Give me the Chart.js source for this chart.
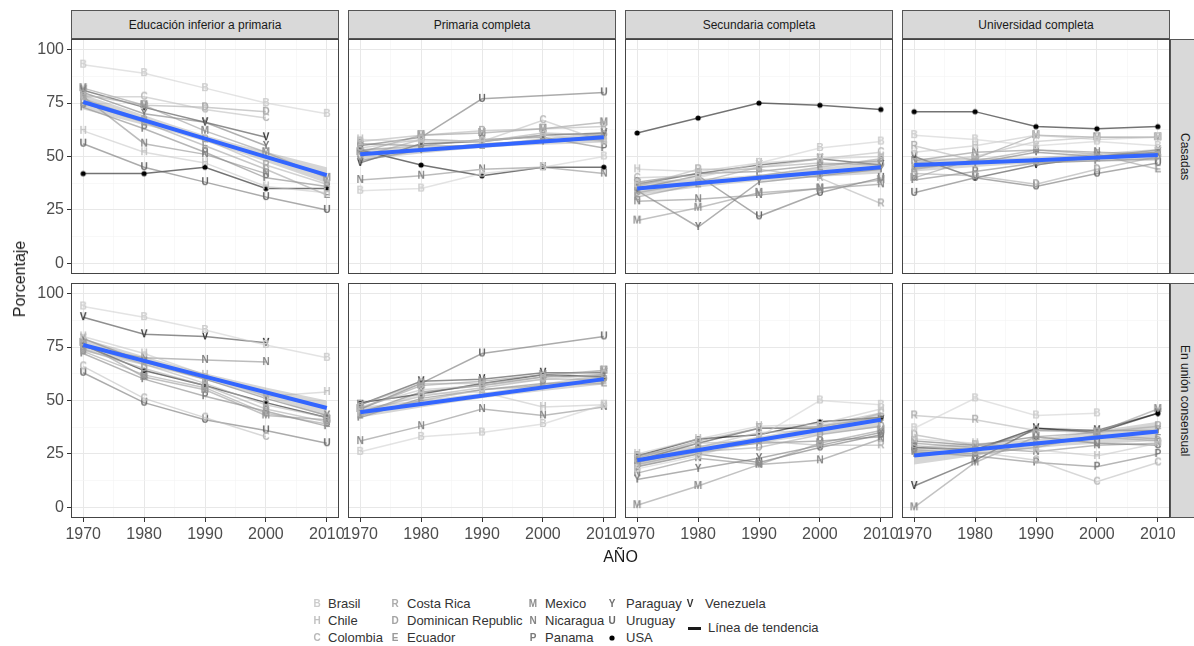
<!DOCTYPE html>
<html>
<head>
<meta charset="utf-8">
<script src="https://cdn.jsdelivr.net/npm/chart.js@4.4.1/dist/chart.umd.min.js"></script>
<style>
  body { margin: 0; background: #fff; font-family: "Liberation Sans", Arial, sans-serif; }
  #wrap { position: relative; width: 1194px; height: 646px; overflow: hidden; }
  canvas.panel { position: absolute; }
  .strip { position: absolute; background: #d9d9d9; border: 1px solid #555; box-sizing: border-box;
           color: #1a1a1a; font-size: 12px; display: flex; align-items: center; justify-content: center; }
  .vstrip { writing-mode: vertical-rl; }
  .title { position: absolute; color: #1a1a1a; font-size: 16px; }
  .leg { position: absolute; color: #333; font-size: 13px; line-height: 15px; white-space: nowrap; }
  .legsym { position: absolute; }
</style>
</head>
<body>
<div id="wrap"></div>
<script>
// --- data -----------------------------------------------------------------
const years = [1970, 1980, 1990, 2000, 2010];
const countries = ['Brasil', 'Chile', 'Colombia', 'Costa Rica', 'Dominican Republic', 'Ecuador',
                   'Mexico', 'Nicaragua', 'Panama', 'Paraguay', 'Uruguay', 'USA', 'Venezuela'];
const educacion = ['Educación inferior a primaria', 'Primaria completa', 'Secundaria completa', 'Universidad completa'];
const estados = ['Casadas', 'En unión consensual'];

// one row per country (same order as countries), one value per year
const casadas_inferior = [
  [93, 89, 82, 75, 70], [62, 52, 47, 36, 33], [78, 78, 72, 68, null], [77, 67, 58, 46, 37],
  [79, 74, 73, 71, null], [75, 66, 55, 44, 32], [82, 74, 62, 52, 40], [78, 56, 51, 42, null],
  [73, 63, 52, 40, 36], [80, 70, 66, 55, null], [56, 45, 38, 31, 25], [42, 42, 45, 35, 35],
  [81, 73, 66, 59, null]
];
const casadas_primaria = [
  [34, 35, 42, 45, 50], [58, 57, 57, 60, 57], [54, 58, 57, 67, 57], [57, 60, 62, 63, 64],
  [50, 58, 57, 61, 60], [53, 55, 55, 58, 58], [52, 60, 61, 63, 66], [39, 41, 44, 45, 42],
  [56, 55, 58, 59, 54], [48, 53, 56, 57, 60], [55, 59, 77, null, 80], [53, 46, 41, 45, 45],
  [47, 56, 57, 60, 61]
];
const casadas_secundaria = [
  [37, 40, 47, 54, 57], [44, 43, 47, 49, 50], [40, 41, 45, 49, 52], [36, 44, 44, 40, 28],
  [33, 38, 45, 47, 46], [31, 37, 41, 45, 49], [20, 26, 33, 35, 39], [29, 30, 32, 35, 37],
  [38, 42, 43, 46, 48], [34, 17, 38, 41, 44], [35, 41, 22, 33, 40], [61, 68, 75, 74, 72],
  [37, 42, 46, 49, 46]
];
const casadas_universidad = [
  [60, 58, 55, 57, 55], [52, 55, 60, 58, 59], [47, 50, 57, 59, 59], [55, 48, 47, 49, 52],
  [42, 41, 37, 44, 50], [44, 48, 53, 51, 44], [40, 49, 60, 59, 59], [48, 52, 53, 52, 51],
  [39, 43, 47, 48, 49], [45, 47, 52, 50, 53], [33, 40, 36, 42, 47], [71, 71, 64, 63, 64],
  [50, 40, 46, 50, 52]
];
const union_inferior = [
  [94, 89, 83, 76, 70], [80, 72, 62, 52, 54], [66, 51, 42, 33, null], [76, 67, 58, 48, 42],
  [74, 65, 57, 46, 40], [73, 62, 56, 44, 39], [77, 61, 55, 43, 41], [75, 70, 69, 68, null],
  [72, 60, 52, 45, 38], [79, 68, 60, 51, 43], [63, 49, 41, 36, 30], [76, 64, 57, 49, 42],
  [89, 81, 80, 77, null]
];
const union_primaria = [
  [26, 33, 35, 39, 48], [44, 53, 54, 47, 48], [47, 55, 57, 60, 62], [48, 58, 58, 61, 64],
  [45, 52, 56, 60, 60], [43, 50, 55, 57, 58], [46, 57, 59, 62, 64], [31, 38, 46, 43, 47],
  [42, 51, 55, 58, 59], [44, 54, 57, 61, 62], [46, 58, 72, null, 80], [49, 53, 58, 62, 61],
  [48, 59, 60, 63, 63]
];
const union_secundaria = [
  [18, 24, 33, 50, 48], [25, 32, 38, 39, 46], [22, 28, 35, 36, 44], [24, 30, 31, 29, 29],
  [20, 26, 28, 34, 38], [23, 31, 37, 38, 42], [1, 10, 20, 30, 36], [16, 23, 20, 22, 32],
  [21, 27, 30, 31, 33], [13, 18, 23, 29, 35], [19, 25, 21, 28, 34], [24, 32, 34, 40, 42],
  [22, 30, 37, 37, 41]
];
const union_universidad = [
  [37, 51, 43, 44, null], [32, 30, 27, 24, 30], [29, 26, 22, 12, 21], [43, 41, 36, 35, 38],
  [34, 29, 29, 33, 31], [27, 25, 28, 34, 32], [0, 21, 33, 35, 46], [30, 28, 26, 29, 30],
  [26, 24, 21, 19, 25], [25, 27, 36, 36, 36], [31, 29, 33, 30, 29], [28, 27, 37, 35, 44],
  [10, 22, 37, 36, 44]
];

// trend line (blue) and its band at 1970, 1990, 2010, per panel (row-major)
const trendYears = [1970, 1990, 2010];
const trendMid = [[75.5, 58.4, 41.3], [51, 55, 59], [35, 40, 45], [46, 48.3, 50.7],
                  [76, 61.2, 46.5], [44.5, 52.2, 60], [22, 31.5, 41], [24.3, 29.9, 35.5]];
const trendHi = [[79, 60, 45], [53.5, 56, 61.5], [38, 41.5, 48], [49, 49.8, 53.5],
                 [79, 62.8, 50], [47, 53.5, 62.5], [25, 33, 44.5], [28.5, 32, 40]];
const trendLo = [[72, 57, 37.5], [48.5, 54, 56.5], [32, 38.5, 42], [43, 46.8, 48],
                 [73, 59.6, 43], [42, 51, 57.5], [19, 30, 37.5], [20, 27.8, 31]];

const xGrid = [1970, 1975, 1980, 1985, 1990, 1995, 2000, 2005, 2010];
const yGrid = [0, 12.5, 25, 37.5, 50, 62.5, 75, 87.5, 100];

const grays = ['#cccccc', '#c2c2c2', '#b8b8b8', '#adadad', '#a3a3a3', '#999999',
               '#8f8f8f', '#858585', '#7a7a7a', '#707070', '#666666', '#000000', '#333333'];
const symbols = ['B', 'H', 'C', 'R', 'D', 'E', 'M', 'N', 'P', 'Y', 'U', '•', 'V'];

const panels = [casadas_inferior, casadas_primaria, casadas_secundaria, casadas_universidad,
                union_inferior, union_primaria, union_secundaria, union_universidad];

// --- layout ---------------------------------------------------------------
const PX = [71, 348, 625, 902];
const PY = [39, 283];
const PW = 268, PH = 235;
const AXW = 60, AXH = 30, PADR = 20;
const FONT = '"Liberation Sans", Arial, sans-serif';
const wrap = document.getElementById('wrap');

function glyph(ch, color) {
  const cv = document.createElement('canvas');
  cv.width = 12; cv.height = 12;
  const g = cv.getContext('2d');
  g.fillStyle = color;
  if (ch === '•') {
    g.beginPath(); g.arc(6, 6, 2.6, 0, Math.PI * 2); g.fill();
  } else {
    g.font = 'bold 10px ' + FONT;
    g.textAlign = 'center'; g.textBaseline = 'middle';
    g.fillText(ch, 6, 6.5);
  }
  return cv;
}
const glyphs = symbols.map((s, i) => glyph(s, grays[i]));

function alpha(hex, a) {
  const n = parseInt(hex.slice(1), 16);
  return 'rgba(' + (n >> 16) + ',' + ((n >> 8) & 255) + ',' + (n & 255) + ',' + a + ')';
}

const panelBorder = {
  id: 'panelBorder',
  afterDraw(chart) {
    const a = chart.chartArea, ctx = chart.ctx;
    ctx.save();
    ctx.strokeStyle = '#444';
    ctx.lineWidth = 1;
    ctx.strokeRect(a.left + 0.5, a.top + 0.5, a.width - 1, a.height - 1);
    ctx.restore();
  }
};

function makePanel(r, c) {
  const k = r * 4 + c;
  const rows = panels[k];
  const cv = document.createElement('canvas');
  cv.className = 'panel';
  cv.width = AXW + PW + PADR;
  cv.height = PH + AXH;
  cv.style.left = (PX[c] - AXW) + 'px';
  cv.style.top = PY[r] + 'px';
  wrap.appendChild(cv);

  const datasets = [];
  datasets.push({
    label: 'trend', order: 0,
    data: trendYears.map((y, i) => ({ x: y, y: trendMid[k][i] })),
    borderColor: '#3366ff', borderWidth: 4, pointRadius: 0, fill: false
  });
  datasets.push({
    label: 'bandHi', order: 1,
    data: trendYears.map((y, i) => ({ x: y, y: trendHi[k][i] })),
    borderWidth: 0, borderColor: 'rgba(0,0,0,0)', pointRadius: 0,
    fill: '+1', backgroundColor: 'rgba(153,153,153,0.4)', cubicInterpolationMode: 'monotone'
  });
  datasets.push({
    label: 'bandLo', order: 1,
    data: trendYears.map((y, i) => ({ x: y, y: trendLo[k][i] })),
    borderWidth: 0, borderColor: 'rgba(0,0,0,0)', pointRadius: 0, fill: false,
    cubicInterpolationMode: 'monotone'
  });
  countries.forEach((name, i) => {
    datasets.push({
      label: name, order: 2,
      data: years.map((y, j) => ({ x: y, y: rows[i][j] })),
      borderColor: alpha(grays[i], 0.55), borderWidth: 1.5,
      pointStyle: glyphs[i], pointRadius: 5, spanGaps: true, fill: false
    });
  });

  const bottom = r === 1, left = c === 0;
  new Chart(cv, {
    type: 'line',
    data: { datasets },
    plugins: [panelBorder],
    options: {
      responsive: false, animation: false, events: [],
      layout: { padding: { left: 0, right: PADR, top: 0, bottom: 0 }, autoPadding: false },
      plugins: { legend: { display: false }, tooltip: { enabled: false } },
      scales: {
        x: {
          type: 'linear', min: 1968, max: 2012,
          afterBuildTicks: s => { s.ticks = xGrid.map(v => ({ value: v })); },
          afterFit: s => { s.height = AXH; s.paddingLeft = 0; s.paddingRight = 0; },
          border: { display: false },
          grid: {
            color: ctx => (ctx.tick && ctx.tick.value % 10 === 0) ? '#e8e8e8' : '#f3f3f3',
            lineWidth: ctx => (ctx.tick && ctx.tick.value % 10 === 0) ? 1 : 0.6,
            drawTicks: bottom, tickLength: 4,
            tickColor: ctx => (ctx.tick && ctx.tick.value % 10 === 0) ? '#333' : 'rgba(0,0,0,0)'
          },
          ticks: {
            display: bottom, autoSkip: false, maxRotation: 0, minRotation: 0, padding: 3,
            color: '#4d4d4d', font: { size: 16, family: FONT },
            callback: v => v % 10 === 0 ? String(v) : ''
          }
        },
        y: {
          type: 'linear', min: -5, max: 105,
          afterBuildTicks: s => { s.ticks = yGrid.map(v => ({ value: v })); },
          afterFit: s => { s.width = AXW; s.paddingTop = 0; s.paddingBottom = 0; },
          border: { display: false },
          grid: {
            color: ctx => (ctx.tick && ctx.tick.value % 25 === 0) ? '#e8e8e8' : '#f3f3f3',
            lineWidth: ctx => (ctx.tick && ctx.tick.value % 25 === 0) ? 1 : 0.6,
            drawTicks: left, tickLength: 4,
            tickColor: ctx => (ctx.tick && ctx.tick.value % 25 === 0) ? '#333' : 'rgba(0,0,0,0)'
          },
          ticks: {
            display: left, autoSkip: false, padding: 3,
            color: '#4d4d4d', font: { size: 16, family: FONT },
            callback: v => v % 25 === 0 ? String(v) : ''
          }
        }
      }
    }
  });
}

for (let r = 0; r < 2; r++) for (let c = 0; c < 4; c++) makePanel(r, c);

// strips
educacion.forEach((t, c) => {
  const d = document.createElement('div');
  d.className = 'strip';
  d.style.left = PX[c] + 'px'; d.style.top = '10px';
  d.style.width = PW + 'px'; d.style.height = '29px';
  d.textContent = t;
  wrap.appendChild(d);
});
estados.forEach((t, r) => {
  const d = document.createElement('div');
  d.className = 'strip vstrip';
  d.style.left = (PX[3] + PW) + 'px'; d.style.top = PY[r] + 'px';
  d.style.width = '29px'; d.style.height = PH + 'px';
  d.textContent = t;
  wrap.appendChild(d);
});

// axis titles
const xt = document.createElement('div');
xt.className = 'title'; xt.textContent = 'AÑO';
xt.style.left = '0px'; xt.style.width = '1241px'; xt.style.textAlign = 'center'; xt.style.top = '548px';
wrap.appendChild(xt);
const yt = document.createElement('div');
yt.className = 'title'; yt.textContent = 'Porcentaje';
yt.style.left = '20px'; yt.style.top = '279px';
yt.style.transform = 'translate(-50%, -50%) rotate(-90deg)';
wrap.appendChild(yt);

// legend
const legSymX = [317, 395, 533, 612, 690];
const legTxtX = [328, 407, 545, 626, 705];
const legRowY = [604, 621, 638];
countries.forEach((name, i) => {
  const col = Math.floor(i / 3), row = i % 3;
  const s = glyph(symbols[i], grays[i]);
  s.className = 'legsym';
  s.style.left = (legSymX[col] - 6) + 'px';
  s.style.top = (legRowY[row] - 6) + 'px';
  wrap.appendChild(s);
  const t = document.createElement('div');
  t.className = 'leg'; t.textContent = name;
  t.style.left = legTxtX[col] + 'px'; t.style.top = (legRowY[row] - 8) + 'px';
  wrap.appendChild(t);
});
const tl = document.createElement('div');
tl.style.cssText = 'position:absolute;left:688px;top:627px;width:13px;height:3px;background:#1a1a1a;';
wrap.appendChild(tl);
const tt = document.createElement('div');
tt.className = 'leg'; tt.textContent = 'Línea de tendencia';
tt.style.left = '708px'; tt.style.top = '620px';
wrap.appendChild(tt);
</script>
</body>
</html>
